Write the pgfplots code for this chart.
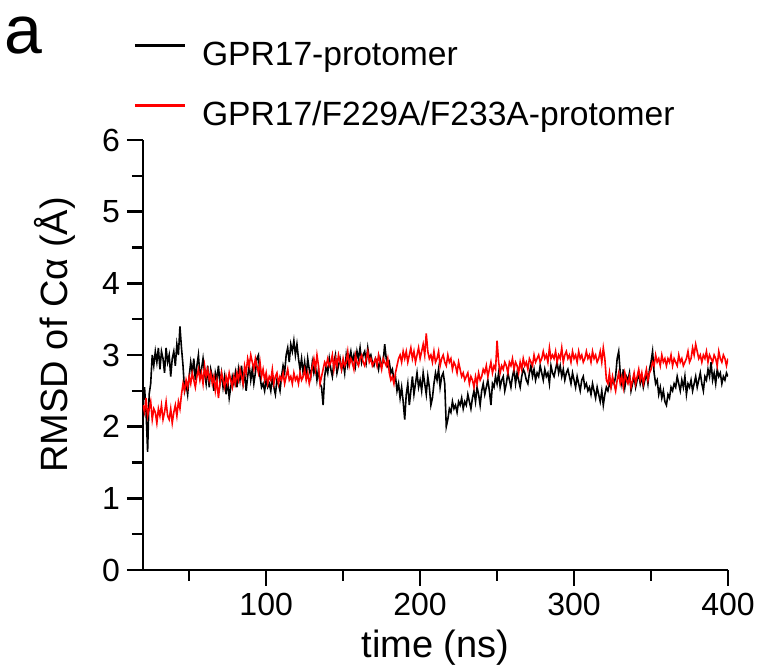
\documentclass[border=0pt]{standalone}
\usepackage{fontspec}
\setmainfont{Liberation Sans}
\usepackage{pgfplots}
\pgfplotsset{compat=1.18}
\begin{document}
\begin{tikzpicture}
\useasboundingbox (-71.5pt,-51pt) rectangle (308pt,285pt);
\begin{axis}[
  name=ax, at={(0,0)}, anchor=south west,
  scale only axis, width=292.5pt, height=215pt,
  xmin=20, xmax=400, ymin=0, ymax=6,
  axis lines=left, axis line style={-, line width=1.4pt},
  xtick={100,200,300,400}, minor xtick={50,150,250,350},
  ytick={0,1,2,3,4,5,6}, minor ytick={0.5,1.5,2.5,3.5,4.5,5.5},
  tick align=outside, major tick length=8pt, minor tick length=5.5pt,
  tick style={black, line width=1.2pt},
  /pgf/number format/assume math mode=true,
  tick label style={font=\fontsize{16}{18}\selectfont},
  label style={font=\fontsize{19}{22}\selectfont},
  xlabel={time (ns)}, ylabel={RMSD of Cα (Å)},
  x label style={at={(axis description cs:0.5,-0.181)}, anchor=center},
  y label style={at={(axis description cs:-0.150,0.547)}, anchor=center},
  legend cell align=left,
  legend style={at={(axis description cs:-0.017,1.230)}, anchor=north west,
    draw=none, fill=none, inner sep=0pt, row sep=14.5pt, column sep=8pt,
    font=\fontsize{16.8}{18}\selectfont,
    nodes={inner sep=0pt, text height=12pt, text depth=3.5pt}},
  legend image code/.code={\draw[#1, line width=1.3pt] (0pt,5.9pt) -- (25pt,5.9pt);},
]
\addplot[black, line width=0.8pt] table[row sep=\\] {
x y\\
20 2.35\\ 21 2.55\\ 22 2.20\\ 23 1.65\\ 24 2.45\\ 25 2.60\\ 26 3.00\\ 27 2.85\\ 28 3.05\\ 29 2.90\\
30 3.10\\ 31 2.80\\ 32 3.05\\ 33 2.95\\ 34 2.75\\ 35 3.10\\ 36 2.90\\ 37 3.00\\ 38 2.70\\ 39 2.95\\
40 3.05\\ 41 2.85\\ 42 3.15\\ 43 3.00\\ 44 3.40\\ 45 3.10\\ 46 2.85\\ 47 2.50\\ 48 2.60\\ 49 2.45\\
50 2.70\\ 51 2.90\\ 52 2.75\\ 53 2.95\\ 54 2.65\\ 55 2.85\\ 56 3.00\\ 57 2.70\\ 58 2.80\\ 59 2.95\\
60 2.75\\ 61 2.60\\ 62 2.85\\ 63 2.55\\ 64 2.80\\ 65 2.70\\ 66 2.50\\ 67 2.75\\ 68 2.65\\ 69 2.85\\
70 2.60\\ 71 2.75\\ 72 2.55\\ 73 2.70\\ 74 2.45\\ 75 2.65\\ 76 2.40\\ 77 2.55\\ 78 2.70\\ 79 2.60\\
80 2.75\\ 81 2.55\\ 82 2.80\\ 83 2.65\\ 84 2.85\\ 85 2.60\\ 86 2.75\\ 87 2.50\\ 88 2.70\\ 89 2.85\\
90 2.65\\ 91 2.80\\ 92 2.60\\ 93 2.75\\ 94 2.95\\ 95 3.00\\ 96 2.70\\ 97 2.55\\ 98 2.60\\ 99 2.50\\
100 2.65\\ 101 2.55\\ 102 2.60\\ 103 2.50\\ 104 2.70\\ 105 2.55\\ 106 2.45\\ 107 2.65\\ 108 2.60\\ 109 2.50\\
110 2.70\\ 111 2.85\\ 112 2.75\\ 113 3.00\\ 114 3.10\\ 115 2.90\\ 116 3.15\\ 117 3.05\\ 118 3.20\\ 119 3.00\\
120 3.15\\ 121 2.95\\ 122 2.80\\ 123 2.95\\ 124 2.75\\ 125 2.90\\ 126 2.70\\ 127 2.95\\ 128 2.80\\ 129 2.70\\
130 2.90\\ 131 2.75\\ 132 2.85\\ 133 2.65\\ 134 2.80\\ 135 2.60\\ 136 2.55\\ 137 2.30\\ 138 2.70\\ 139 2.85\\
140 2.75\\ 141 2.95\\ 142 2.80\\ 143 2.70\\ 144 2.90\\ 145 3.00\\ 146 2.75\\ 147 2.85\\ 148 2.95\\ 149 2.80\\
150 2.90\\ 151 2.75\\ 152 3.00\\ 153 2.85\\ 154 2.95\\ 155 3.05\\ 156 2.90\\ 157 3.00\\ 158 2.85\\ 159 3.05\\
160 2.95\\ 161 3.10\\ 162 2.90\\ 163 3.00\\ 164 3.05\\ 165 2.90\\ 166 3.10\\ 167 2.95\\ 168 3.00\\ 169 2.90\\
170 2.85\\ 171 2.95\\ 172 2.90\\ 173 2.80\\ 174 2.95\\ 175 2.85\\ 176 2.90\\ 177 3.15\\ 178 2.95\\ 179 2.85\\
180 2.90\\ 181 2.75\\ 182 2.80\\ 183 2.65\\ 184 2.70\\ 185 2.50\\ 186 2.60\\ 187 2.40\\ 188 2.55\\ 189 2.35\\
190 2.10\\ 191 2.45\\ 192 2.60\\ 193 2.30\\ 194 2.50\\ 195 2.70\\ 196 2.45\\ 197 2.60\\ 198 2.75\\ 199 2.55\\
200 2.65\\ 201 2.50\\ 202 2.75\\ 203 2.60\\ 204 2.45\\ 205 2.70\\ 206 2.55\\ 207 2.30\\ 208 2.40\\ 209 2.60\\
210 2.75\\ 211 2.65\\ 212 2.80\\ 213 2.55\\ 214 2.70\\ 215 2.75\\ 216 2.60\\ 217 2.00\\ 218 2.10\\ 219 2.25\\
220 2.20\\ 221 2.35\\ 222 2.25\\ 223 2.30\\ 224 2.20\\ 225 2.35\\ 226 2.30\\ 227 2.40\\ 228 2.25\\ 229 2.35\\
230 2.30\\ 231 2.45\\ 232 2.35\\ 233 2.25\\ 234 2.40\\ 235 2.50\\ 236 2.35\\ 237 2.55\\ 238 2.45\\ 239 2.30\\
240 2.50\\ 241 2.60\\ 242 2.45\\ 243 2.55\\ 244 2.65\\ 245 2.50\\ 246 2.30\\ 247 2.60\\ 248 2.55\\ 249 2.70\\
250 2.60\\ 251 2.75\\ 252 2.55\\ 253 2.65\\ 254 2.70\\ 255 2.50\\ 256 2.60\\ 257 2.75\\ 258 2.65\\ 259 2.55\\
260 2.70\\ 261 2.80\\ 262 2.60\\ 263 2.75\\ 264 2.65\\ 265 2.55\\ 266 2.70\\ 267 2.80\\ 268 2.75\\ 269 2.65\\
270 2.60\\ 271 2.75\\ 272 2.85\\ 273 2.70\\ 274 2.80\\ 275 2.65\\ 276 2.75\\ 277 2.70\\ 278 2.85\\ 279 2.75\\
280 2.65\\ 281 2.80\\ 282 2.70\\ 283 2.75\\ 284 2.60\\ 285 2.85\\ 286 2.75\\ 287 2.70\\ 288 2.80\\ 289 2.90\\
290 2.75\\ 291 2.85\\ 292 2.70\\ 293 2.80\\ 294 2.65\\ 295 2.75\\ 296 2.80\\ 297 2.70\\ 298 2.60\\ 299 2.75\\
300 2.65\\ 301 2.55\\ 302 2.70\\ 303 2.60\\ 304 2.50\\ 305 2.65\\ 306 2.70\\ 307 2.55\\ 308 2.60\\ 309 2.50\\
310 2.55\\ 311 2.45\\ 312 2.60\\ 313 2.50\\ 314 2.40\\ 315 2.55\\ 316 2.45\\ 317 2.35\\ 318 2.50\\ 319 2.30\\
320 2.45\\ 321 2.55\\ 322 2.50\\ 323 2.60\\ 324 2.55\\ 325 2.65\\ 326 2.60\\ 327 2.70\\ 328 2.95\\ 329 3.05\\
330 2.75\\ 331 2.60\\ 332 2.80\\ 333 2.55\\ 334 2.70\\ 335 2.65\\ 336 2.75\\ 337 2.50\\ 338 2.60\\ 339 2.70\\
340 2.55\\ 341 2.65\\ 342 2.75\\ 343 2.60\\ 344 2.70\\ 345 2.55\\ 346 2.65\\ 347 2.75\\ 348 2.60\\ 349 2.80\\
350 2.90\\ 351 3.05\\ 352 2.75\\ 353 2.60\\ 354 2.65\\ 355 2.45\\ 356 2.55\\ 357 2.40\\ 358 2.50\\ 359 2.35\\
360 2.30\\ 361 2.45\\ 362 2.40\\ 363 2.55\\ 364 2.50\\ 365 2.60\\ 366 2.55\\ 367 2.70\\ 368 2.60\\ 369 2.50\\
370 2.65\\ 371 2.55\\ 372 2.70\\ 373 2.45\\ 374 2.60\\ 375 2.55\\ 376 2.65\\ 377 2.50\\ 378 2.60\\ 379 2.70\\
380 2.55\\ 381 2.65\\ 382 2.75\\ 383 2.60\\ 384 2.50\\ 385 2.70\\ 386 2.65\\ 387 2.80\\ 388 2.70\\ 389 2.90\\
390 2.65\\ 391 2.75\\ 392 2.60\\ 393 2.80\\ 394 2.70\\ 395 2.75\\ 396 2.60\\ 397 2.70\\ 398 2.65\\ 399 2.75\\
400 2.70\\
};
\addlegendentry{GPR17-protomer}
\addplot[red, line width=0.8pt] table[row sep=\\] {
x y\\
20 2.30\\ 21 2.20\\ 22 2.40\\ 23 2.15\\ 24 2.25\\ 25 2.35\\ 26 2.10\\ 27 2.25\\ 28 2.20\\ 29 2.05\\
30 2.25\\ 31 2.15\\ 32 2.30\\ 33 2.10\\ 34 2.20\\ 35 2.35\\ 36 2.15\\ 37 2.10\\ 38 2.25\\ 39 2.05\\
40 2.20\\ 41 2.30\\ 42 2.15\\ 43 2.35\\ 44 2.25\\ 45 2.45\\ 46 2.60\\ 47 2.50\\ 48 2.65\\ 49 2.55\\
50 2.70\\ 51 2.60\\ 52 2.75\\ 53 2.65\\ 54 2.55\\ 55 2.70\\ 56 2.80\\ 57 2.65\\ 58 2.75\\ 59 2.60\\
60 2.85\\ 61 2.70\\ 62 2.80\\ 63 2.65\\ 64 2.75\\ 65 2.60\\ 66 2.70\\ 67 2.50\\ 68 2.65\\ 69 2.40\\
70 2.60\\ 71 2.75\\ 72 2.65\\ 73 2.55\\ 74 2.70\\ 75 2.60\\ 76 2.75\\ 77 2.65\\ 78 2.55\\ 79 2.70\\
80 2.60\\ 81 2.75\\ 82 2.65\\ 83 2.80\\ 84 2.70\\ 85 2.60\\ 86 2.85\\ 87 2.75\\ 88 2.95\\ 89 2.85\\
90 3.00\\ 91 2.90\\ 92 2.80\\ 93 2.95\\ 94 2.85\\ 95 2.75\\ 96 2.90\\ 97 2.70\\ 98 2.80\\ 99 2.65\\
100 2.75\\ 101 2.60\\ 102 2.70\\ 103 2.65\\ 104 2.80\\ 105 2.60\\ 106 2.70\\ 107 2.75\\ 108 2.60\\ 109 2.70\\
110 2.65\\ 111 2.75\\ 112 2.60\\ 113 2.70\\ 114 2.80\\ 115 2.65\\ 116 2.70\\ 117 2.60\\ 118 2.75\\ 119 2.65\\
120 2.70\\ 121 2.60\\ 122 2.75\\ 123 2.65\\ 124 2.70\\ 125 2.80\\ 126 2.65\\ 127 2.75\\ 128 2.60\\ 129 2.70\\
130 2.85\\ 131 2.95\\ 132 2.80\\ 133 3.00\\ 134 2.85\\ 135 2.60\\ 136 2.70\\ 137 2.80\\ 138 2.90\\ 139 2.85\\
140 2.95\\ 141 2.85\\ 142 2.90\\ 143 3.00\\ 144 2.80\\ 145 2.95\\ 146 2.85\\ 147 3.00\\ 148 2.90\\ 149 2.80\\
150 2.95\\ 151 2.85\\ 152 2.90\\ 153 3.05\\ 154 2.85\\ 155 2.95\\ 156 2.90\\ 157 2.80\\ 158 3.00\\ 159 2.90\\
160 2.85\\ 161 2.95\\ 162 3.00\\ 163 2.90\\ 164 2.85\\ 165 2.95\\ 166 3.05\\ 167 2.90\\ 168 2.95\\ 169 2.85\\
170 2.90\\ 171 2.95\\ 172 2.85\\ 173 3.00\\ 174 2.90\\ 175 2.80\\ 176 2.95\\ 177 2.90\\ 178 2.85\\ 179 2.95\\
180 2.75\\ 181 2.65\\ 182 2.70\\ 183 2.60\\ 184 2.75\\ 185 2.85\\ 186 2.95\\ 187 3.00\\ 188 2.90\\ 189 3.05\\
190 2.95\\ 191 3.05\\ 192 2.90\\ 193 3.00\\ 194 3.10\\ 195 2.95\\ 196 3.05\\ 197 2.90\\ 198 3.00\\ 199 3.10\\
200 2.95\\ 201 3.05\\ 202 3.15\\ 203 3.00\\ 204 3.30\\ 205 3.05\\ 206 2.95\\ 207 3.00\\ 208 2.90\\ 209 3.05\\
210 2.90\\ 211 2.95\\ 212 3.05\\ 213 2.85\\ 214 2.95\\ 215 3.00\\ 216 2.90\\ 217 2.85\\ 218 3.00\\ 219 2.90\\
220 2.95\\ 221 2.80\\ 222 2.90\\ 223 2.85\\ 224 2.75\\ 225 2.90\\ 226 2.80\\ 227 2.70\\ 228 2.75\\ 229 2.65\\
230 2.70\\ 231 2.75\\ 232 2.60\\ 233 2.70\\ 234 2.65\\ 235 2.55\\ 236 2.70\\ 237 2.60\\ 238 2.75\\ 239 2.65\\
240 2.70\\ 241 2.80\\ 242 2.75\\ 243 2.85\\ 244 2.70\\ 245 2.80\\ 246 2.90\\ 247 2.75\\ 248 2.85\\ 249 2.80\\
250 3.20\\ 251 2.90\\ 252 2.75\\ 253 2.85\\ 254 2.80\\ 255 2.90\\ 256 2.85\\ 257 2.75\\ 258 2.90\\ 259 2.85\\
260 2.95\\ 261 2.80\\ 262 2.90\\ 263 2.85\\ 264 2.75\\ 265 2.90\\ 266 2.80\\ 267 2.95\\ 268 2.85\\ 269 2.90\\
270 2.80\\ 271 2.95\\ 272 2.90\\ 273 2.85\\ 274 3.00\\ 275 2.90\\ 276 2.95\\ 277 3.00\\ 278 2.90\\ 279 2.95\\
280 3.05\\ 281 2.95\\ 282 3.00\\ 283 2.90\\ 284 3.10\\ 285 2.95\\ 286 3.00\\ 287 2.95\\ 288 3.05\\ 289 2.90\\
290 3.00\\ 291 2.95\\ 292 3.10\\ 293 2.90\\ 294 3.00\\ 295 3.05\\ 296 2.95\\ 297 3.00\\ 298 2.90\\ 299 3.05\\
300 2.95\\ 301 3.00\\ 302 2.90\\ 303 3.05\\ 304 2.95\\ 305 3.00\\ 306 2.90\\ 307 2.95\\ 308 3.05\\ 309 2.95\\
310 3.00\\ 311 2.90\\ 312 3.05\\ 313 2.95\\ 314 3.00\\ 315 2.90\\ 316 2.95\\ 317 3.05\\ 318 2.90\\ 319 3.10\\
320 2.95\\ 321 2.65\\ 322 2.60\\ 323 2.75\\ 324 2.55\\ 325 2.70\\ 326 2.60\\ 327 2.50\\ 328 2.65\\ 329 2.75\\
330 2.60\\ 331 2.70\\ 332 2.55\\ 333 2.75\\ 334 2.65\\ 335 2.60\\ 336 2.70\\ 337 2.55\\ 338 2.65\\ 339 2.75\\
340 2.60\\ 341 2.70\\ 342 2.80\\ 343 2.65\\ 344 2.75\\ 345 2.60\\ 346 2.70\\ 347 2.80\\ 348 2.65\\ 349 2.75\\
350 2.80\\ 351 2.90\\ 352 2.85\\ 353 3.00\\ 354 2.90\\ 355 2.95\\ 356 2.85\\ 357 3.00\\ 358 2.90\\ 359 2.95\\
360 2.85\\ 361 2.95\\ 362 2.90\\ 363 3.00\\ 364 2.85\\ 365 2.95\\ 366 2.90\\ 367 2.85\\ 368 3.00\\ 369 2.90\\
370 2.95\\ 371 2.85\\ 372 2.90\\ 373 2.95\\ 374 3.05\\ 375 2.90\\ 376 2.95\\ 377 3.10\\ 378 3.00\\ 379 3.15\\
380 3.05\\ 381 2.95\\ 382 3.00\\ 383 2.90\\ 384 3.00\\ 385 2.95\\ 386 3.05\\ 387 2.90\\ 388 3.00\\ 389 2.95\\
390 2.90\\ 391 3.00\\ 392 2.95\\ 393 2.85\\ 394 3.05\\ 395 2.95\\ 396 2.90\\ 397 3.00\\ 398 2.95\\ 399 2.85\\
400 2.95\\
};
\addlegendentry{GPR17/F229A/F233A-protomer}
\end{axis}
\node[anchor=base west, inner sep=0pt, font=\fontsize{34}{38}\selectfont] at (-69.5pt,258pt) {a};
\end{tikzpicture}
\end{document}
